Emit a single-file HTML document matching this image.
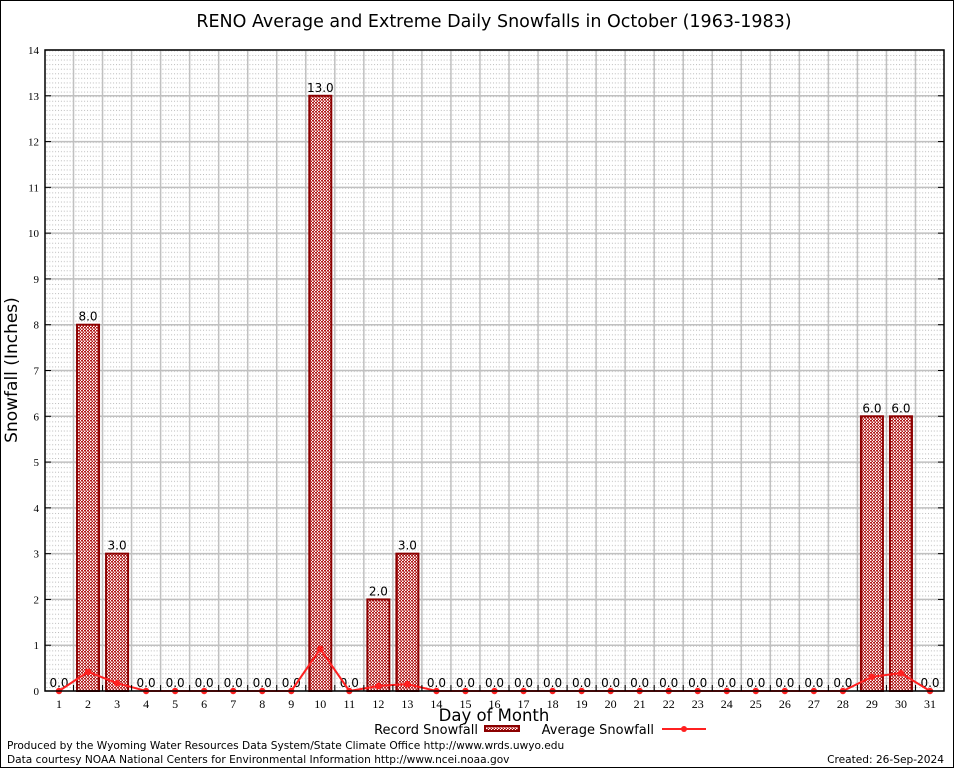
<!DOCTYPE html>
<html><head><meta charset="utf-8"><style>
body{margin:0;background:#fff;}
svg{display:block;font-family:"DejaVu Sans","Liberation Sans",sans-serif;}
</style></head><body>
<svg id="c" width="954" height="768" xmlns="http://www.w3.org/2000/svg">
<defs>
<pattern id="chk" width="3" height="3" patternUnits="userSpaceOnUse">
<rect width="3" height="3" fill="#fff"/><rect width="2" height="1.5" fill="#b01818"/><rect x="1.5" y="1.5" width="1.5" height="1.5" fill="#b01818"/>
</pattern>
<pattern id="dots" width="5.8" height="9.16" patternUnits="userSpaceOnUse">
<rect width="1" height="1" fill="#bbb"/><rect x="2.9" width="1" height="1" fill="#bbb"/><rect y="4.58" width="1" height="1" fill="#bbb"/><rect x="2.9" y="4.58" width="1" height="1" fill="#bbb"/>
</pattern>
</defs>
<rect x="0.5" y="0.5" width="953" height="767" fill="none" stroke="#000"/>
<text x="494" y="27" font-size="17.5" text-anchor="middle">RENO Average and Extreme Daily Snowfalls in October (1963-1983)</text>
<g id="grid"></g>
<g id="bars"></g>
<g id="line"></g>
<g id="axes"></g>
<text transform="translate(17,370) rotate(-90)" font-size="17" text-anchor="middle">Snowfall (Inches)</text>
<text x="494" y="721" font-size="16.5" text-anchor="middle">Day of Month</text>
<g>
<text x="478" y="734" font-size="13" text-anchor="end">Record Snowfall</text>
<rect x="485" y="726" width="34" height="5" fill="url(#chk)" stroke="#8b0000" stroke-width="2"/>
</g>
<g>
<text x="654" y="734" font-size="13" text-anchor="end">Average Snowfall</text>
<line x1="662" y1="729" x2="706" y2="729" stroke="#ff2020" stroke-width="2"/>
<circle cx="684" cy="729" r="3" fill="#ff2020"/>
</g>
<text x="7" y="749" font-size="10.6">Produced by the Wyoming Water Resources Data System/State Climate Office http://www.wrds.uwyo.edu</text>
<text x="7" y="763" font-size="10.6">Data courtesy NOAA National Centers for Environmental Information http://www.ncei.noaa.gov</text>
<text x="944" y="763" font-size="10.6" text-anchor="end">Created: 26-Sep-2024</text>
</svg>
<script>
const days=[1,2,3,4,5,6,7,8,9,10,11,12,13,14,15,16,17,18,19,20,21,22,23,24,25,26,27,28,29,30,31];
const recordSnow=[0,8,3,0,0,0,0,0,0,13,0,2,3,0,0,0,0,0,0,0,0,0,0,0,0,0,0,0,6,6,0];
const avgSnow=[0,0.42,0.17,0,0,0,0,0,0,0.92,0,0.11,0.15,0,0,0,0,0,0,0,0,0,0,0,0,0,0,0,0.31,0.39,0];
const yTicks=[0,1,2,3,4,5,6,7,8,9,10,11,12,13,14];
const NS="http://www.w3.org/2000/svg";
const L=45,R=944,T=50,B=691;
const x=d=>59+(d-1)*(930-59)/30;
const y=v=>B-v*(B-T)/14;
function mk(tag,attrs,parent){const e=document.createElementNS(NS,tag);for(const k in attrs)e.setAttribute(k,attrs[k]);parent.appendChild(e);return e;}
const grid=document.getElementById('grid'),bars=document.getElementById('bars'),line=document.getElementById('line'),axes=document.getElementById('axes');
mk('rect',{x:L,y:T,width:R-L,height:B-T,fill:'url(#dots)'},grid);
yTicks.forEach(t=>{
  const g=mk('line',{x1:L,x2:R,y1:y(t),y2:y(t),stroke:'#c0c0c0','stroke-width':1.5},grid);
  
  
  const lb=mk('text',{x:L-6,y:y(t)+4,'font-size':11,'text-anchor':'end','font-family':'Liberation Serif, serif'},axes);
  lb.textContent=t;
  
  
  mk('line',{x1:L,x2:L+6,y1:y(t),y2:y(t),stroke:'#000'},axes);
  mk('line',{x1:R,x2:R-6,y1:y(t),y2:y(t),stroke:'#000'},axes);
});
days.forEach((d,i)=>{
  if(i<days.length-1){
    const g=mk('line',{x1:x(d+0.5),x2:x(d+0.5),y1:T,y2:B,stroke:'#c0c0c0','stroke-width':1.5},grid);
    
    
    mk('line',{x1:x(d+0.5),x2:x(d+0.5),y1:B,y2:B-6,stroke:'#000'},axes);
  }
  const lb=mk('text',{x:x(d),y:B+17,'font-size':12,'text-anchor':'middle','font-family':'Liberation Serif, serif'},axes);
  lb.textContent=d;
  
  
  const v=recordSnow[i];
  if(v>0){
    const w=22;
    const b=mk('rect',{x:x(d)-w/2,y:y(v),width:w,height:B-y(v),fill:'url(#chk)',stroke:'#8b0000','stroke-width':2},bars);
    
    
  }
  const vl=mk('text',{x:x(d),y:y(v)-4,'font-size':12,'text-anchor':'middle'},bars);
  vl.textContent=v.toFixed(1);
  
  
});
mk('polyline',{points:days.map((d,i)=>x(d)+','+y(avgSnow[i])).join(' '),fill:'none',stroke:'#ff2020','stroke-width':2},line);
days.forEach((d,i)=>{
  const c=mk('circle',{cx:x(d),cy:y(avgSnow[i]),r:3.2,fill:'#ff2020'},line);
  
  
});
mk('rect',{x:L,y:T,width:R-L,height:B-T,fill:'none',stroke:'#000','stroke-width':1.5},axes);
</script>
</body></html>
